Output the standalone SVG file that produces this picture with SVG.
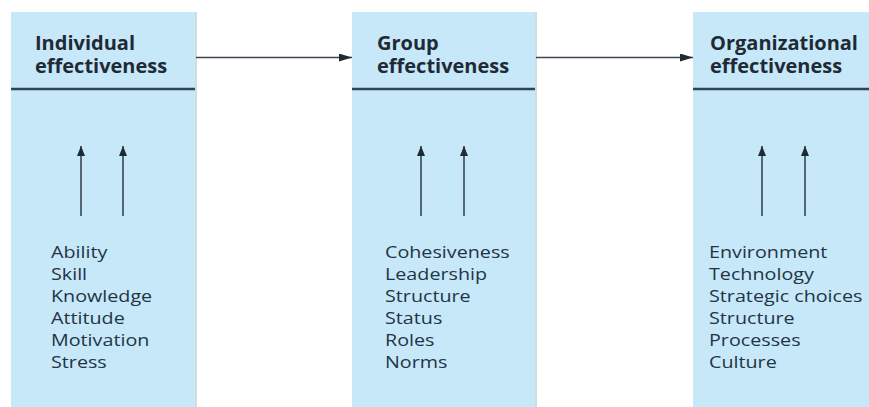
<svg xmlns="http://www.w3.org/2000/svg" width="869" height="407" viewBox="0 0 869 407">
<style>
.box{fill:#c6e8f9}
.edge{fill:#d4dbe0}
.rule{stroke:#2e4556;stroke-width:2.5}
.hd{font-family:"Open Sans","Noto Sans",sans-serif;font-weight:bold;font-size:20px;fill:#1f2a35}
.it{font-family:"Open Sans","Noto Sans",sans-serif;font-size:17px;fill:#243444}
.ar{stroke:#3a4652;stroke-width:1.6;fill:none}
</style>
<defs>
<marker id="ah" markerWidth="14" markerHeight="8" refX="13" refY="4" orient="auto" markerUnits="userSpaceOnUse">
<path d="M0,0 L13,4 L0,8 Z" fill="#1f2a35"/>
</marker>
<marker id="av" markerWidth="10" markerHeight="12" refX="10" refY="4" orient="auto" markerUnits="userSpaceOnUse">
<path d="M0,0 L10,4 L0,8 Z" fill="#1f2a35"/>
</marker>
</defs>
<g id="individual">
<rect class="edge" x="11" y="12" width="186" height="395"/>
<rect class="box" x="11" y="12" width="184" height="395"/>
<line class="rule" x1="11" y1="89" x2="195" y2="89"/>
<text class="hd" x="35" y="50">Individual</text>
<text class="hd" x="35" y="73">effectiveness</text>
<g transform="translate(51,0) scale(1.16,1)">
<text class="it"><tspan x="0" y="258">Ability</tspan><tspan x="0" y="280">Skill</tspan><tspan x="0" y="302">Knowledge</tspan><tspan x="0" y="324">Attitude</tspan><tspan x="0" y="346">Motivation</tspan><tspan x="0" y="368">Stress</tspan></text>
</g>
</g>
<g id="group">
<rect class="edge" x="352" y="12" width="185" height="395"/>
<rect class="box" x="352" y="12" width="183" height="395"/>
<line class="rule" x1="352" y1="89" x2="535" y2="89"/>
<text class="hd" x="377" y="50">Group</text>
<text class="hd" x="377" y="73">effectiveness</text>
<g transform="translate(385,0) scale(1.16,1)">
<text class="it"><tspan x="0" y="258">Cohesiveness</tspan><tspan x="0" y="280">Leadership</tspan><tspan x="0" y="302">Structure</tspan><tspan x="0" y="324">Status</tspan><tspan x="0" y="346">Roles</tspan><tspan x="0" y="368">Norms</tspan></text>
</g>
</g>
<g id="organizational">
<rect class="box" x="693" y="12" width="176" height="395"/>
<line class="rule" x1="693" y1="89" x2="869" y2="89"/>
<text class="hd" x="710" y="50">Organizational</text>
<text class="hd" x="710" y="73">effectiveness</text>
<g transform="translate(709,0) scale(1.16,1)">
<text class="it"><tspan x="0" y="258">Environment</tspan><tspan x="0" y="280">Technology</tspan><tspan x="0" y="302">Strategic choices</tspan><tspan x="0" y="324">Structure</tspan><tspan x="0" y="346">Processes</tspan><tspan x="0" y="368">Culture</tspan></text>
</g>
</g>
<g id="connectors">
<line class="ar" x1="196" y1="57.5" x2="352" y2="57.5" marker-end="url(#ah)"/>
<line class="ar" x1="536" y1="57.5" x2="693" y2="57.5" marker-end="url(#ah)"/>
<line class="ar" x1="81" y1="216" x2="81" y2="146" marker-end="url(#av)"/>
<line class="ar" x1="123" y1="216" x2="123" y2="146" marker-end="url(#av)"/>
<line class="ar" x1="421" y1="216" x2="421" y2="146" marker-end="url(#av)"/>
<line class="ar" x1="464" y1="216" x2="464" y2="146" marker-end="url(#av)"/>
<line class="ar" x1="762" y1="216" x2="762" y2="146" marker-end="url(#av)"/>
<line class="ar" x1="805" y1="216" x2="805" y2="146" marker-end="url(#av)"/>
</g>
</svg>
